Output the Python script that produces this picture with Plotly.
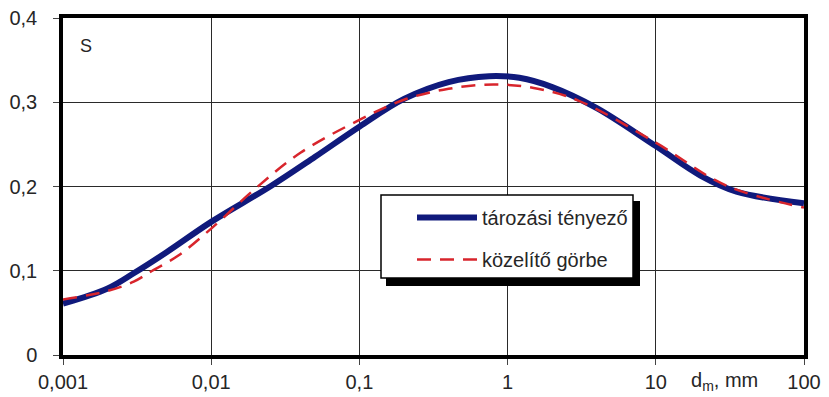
import plotly.graph_objects as go

# grain size d_m [mm] and storage coefficient S
d_meas = [0.001, 0.002, 0.003, 0.005, 0.01, 0.025, 0.05, 0.1, 0.2, 0.4, 0.75, 1.2, 2, 4, 10, 20, 35, 100]
s_meas = [0.061, 0.079, 0.097, 0.122, 0.158, 0.200, 0.235, 0.271, 0.304, 0.324, 0.331, 0.329, 0.318, 0.293, 0.248, 0.213, 0.194, 0.180]

# approximating curve
d_fit = [0.001, 0.002, 0.003, 0.004, 0.006, 0.01, 0.02, 0.04, 0.1, 0.2, 0.4, 0.8, 1.5, 3, 10, 30, 100]
s_fit = [0.066, 0.076, 0.087, 0.100, 0.118, 0.150, 0.198, 0.240, 0.279, 0.303, 0.316, 0.321, 0.317, 0.302, 0.252, 0.201, 0.175]

x_tickvals = [0.001, 0.01, 0.1, 1, 10, 100]
x_ticktext = ["0,001", "0,01", "0,1", "1", "10", "100"]
y_tickvals = [0, 0.1, 0.2, 0.3, 0.4]
y_ticktext = ["0", "0,1", "0,2", "0,3", "0,4"]

FONT = "Liberation Sans, Arial, sans-serif"
TXT = "#262626"

fig = go.Figure()
fig.add_trace(go.Scatter(
    x=d_meas, y=s_meas, mode="lines", name="tározási tényező",
    line=dict(color="#101a7c", width=6, shape="spline", smoothing=1.0),
    legendgroup="a",
))
fig.add_trace(go.Scatter(
    x=d_fit, y=s_fit, mode="lines", name="közelítő görbe",
    line=dict(color="#d8252c", width=2.5, dash="14px,9px", shape="spline", smoothing=1.0),
    legendgroup="b",
))

L, R, T, B = 63, 25, 18, 42
W, H = 829, 397
pw, ph = W - L - R, H - T - B


def px(xp):
    return (xp - L) / pw


def py(yp):
    return (H - B - yp) / ph


# legend frame with drop shadow
shapes = [
    dict(type="rect", xref="paper", yref="paper", layer="above",
         x0=px(386), x1=px(640), y0=py(286), y1=py(201),
         fillcolor="black", line=dict(width=0)),
    dict(type="rect", xref="paper", yref="paper", layer="above",
         x0=px(381), x1=px(633), y0=py(278), y1=py(195),
         fillcolor="white", line=dict(color="black", width=1.5)),
]

fig.update_layout(
    width=W, height=H,
    margin=dict(l=L, r=R, t=T, b=B, autoexpand=False),
    paper_bgcolor="white", plot_bgcolor="white",
    font=dict(family=FONT, size=20, color=TXT),
    shapes=shapes,
    showlegend=True,
    legend=dict(
        x=px(412), y=py(198), xanchor="left", yanchor="top",
        bgcolor="rgba(0,0,0,0)", borderwidth=0,
        font=dict(family=FONT, size=20, color=TXT),
        itemwidth=60, tracegroupgap=13,
    ),
    annotations=[
        dict(text="S", xref="paper", yref="paper", x=px(86), y=py(46),
             xanchor="center", yanchor="middle",
             showarrow=False, font=dict(family=FONT, size=18, color=TXT)),
        dict(text="d<sub>m</sub>, mm", xref="paper", yref="paper", x=px(724), y=py(381),
             xanchor="center", yanchor="middle",
             showarrow=False, font=dict(family=FONT, size=20, color=TXT)),
    ],
)

fig.update_xaxes(
    type="log", range=[-3, 2], automargin=False,
    tickvals=x_tickvals, ticktext=x_ticktext,
    showgrid=True, gridcolor="#2a2a2a", gridwidth=1,
    showline=True, linecolor="black", linewidth=3.5, mirror=True,
    ticks="outside", ticklen=6, tickcolor="#444", tickwidth=1,
    zeroline=False,
)
fig.update_yaxes(
    range=[0, 0.4], automargin=False,
    tickvals=y_tickvals, ticktext=y_ticktext,
    showgrid=True, gridcolor="#2a2a2a", gridwidth=1,
    showline=True, linecolor="black", linewidth=3.5, mirror=True,
    ticks="outside", ticklen=6, tickcolor="#444", tickwidth=1,
    zeroline=False, ticklabelstandoff=12,
)

fig.write_html("out.html")
